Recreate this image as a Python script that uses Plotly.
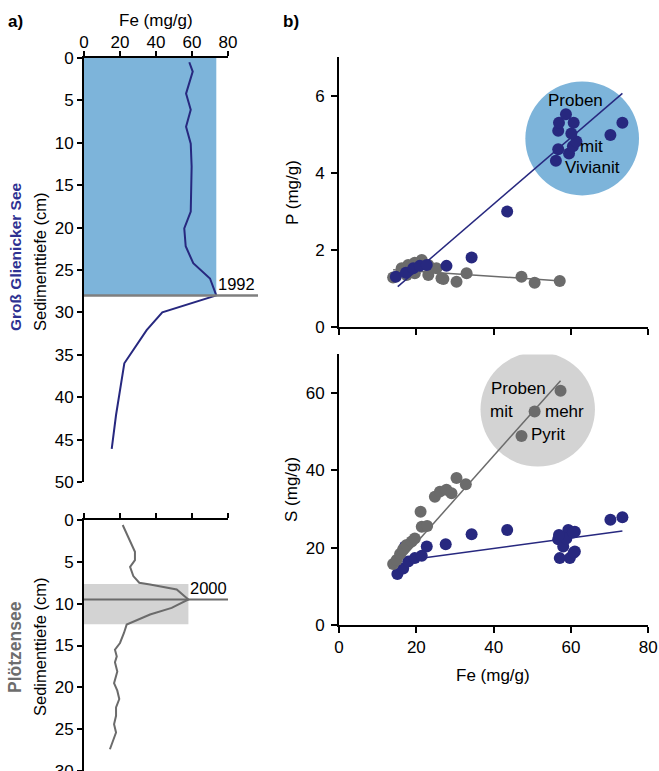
import plotly.graph_objects as go

W, H = 659, 771

# ---------------- data ----------------
# Groß Glienicker See depth profile
gg_depth = [0.5, 1.6, 4.2, 6.1, 8.1, 10.1, 12.8, 16.0, 18.1, 20.1, 22.2, 24.2, 26.0, 28.0, 30.0, 32.1, 36.0, 42.1, 46.1]
gg_fe = [58.5, 60.4, 56.7, 59.3, 56.7, 59.3, 59.8, 59.3, 59.3, 55.7, 56.5, 60.7, 70.0, 73.5, 43.5, 34.8, 22.4, 17.8, 15.4]
gg_year_depth = 28.0
gg_year = "1992"

# Plötzensee depth profile
pl_depth = [0.6, 2.0, 2.8, 3.8, 4.8, 5.6, 6.7, 7.5, 7.7, 8.3, 9.5, 10.5, 11.3, 12.5, 13.5, 14.7, 15.5, 16.3,
            17.0, 18.1, 19.5, 20.4, 21.4, 22.4, 23.4, 24.4, 25.4, 26.4, 27.4]
pl_fe = [21.5, 24.6, 26.5, 28.3, 28.3, 25.6, 27.4, 30.7, 36.7, 51.5, 58.0, 48.7, 36.7, 23.7, 22.2, 20.0, 17.2, 18.2,
         17.2, 18.5, 16.7, 18.5, 19.6, 17.8, 17.8, 16.7, 17.8, 16.0, 14.4]
pl_band_depth = [7.65, 12.45]
pl_year_depth = 9.5
pl_year = "2000"

# P vs Fe
gg_fe_p = [14.7, 17.3, 19.2, 20.9, 22.7, 27.8, 34.3, 43.5, 56.1, 56.7, 59.5, 60.5, 61.4, 60.1, 56.7, 56.9, 58.7, 60.7, 70.2, 73.3]
gg_p = [1.30, 1.40, 1.52, 1.58, 1.60, 1.58, 1.80, 2.99, 4.31, 4.61, 4.50, 4.69, 4.81, 5.02, 5.09, 5.30, 5.52, 5.30, 4.98, 5.30]
pl_fe_p = [14.0, 16.2, 17.5, 17.9, 19.6, 19.6, 21.4, 23.1, 23.1, 25.2, 26.5, 27.0, 30.4, 33.0, 47.2, 50.6, 57.1]
pl_p = [1.28, 1.52, 1.34, 1.60, 1.66, 1.39, 1.73, 1.60, 1.34, 1.52, 1.26, 1.24, 1.17, 1.39, 1.30, 1.14, 1.19]
gg_trend_p_fe = [15.2, 73.3]
gg_trend_p = [1.04, 6.06]
pl_trend_p_fe = [14.0, 57.5]
pl_trend_p = [1.48, 1.19]

# S vs Fe
gg_fe_s = [15.1, 16.6, 17.9, 19.6, 21.4, 22.7, 17.1, 27.6, 34.3, 43.5, 56.7, 59.3, 61.0, 58.0, 57.1, 59.7, 61.0, 58.8, 60.5, 56.9, 60.7, 70.2, 73.3]
gg_s = [13.2, 14.6, 16.4, 17.3, 17.9, 20.3, 20.3, 20.9, 23.5, 24.6, 22.2, 24.6, 24.1, 20.3, 17.3, 17.3, 19.0, 22.4, 23.9, 23.3, 18.7, 27.2, 27.9]
pl_fe_s = [14.0, 14.9, 15.8, 16.6, 17.5, 18.8, 19.6, 21.1, 21.4, 22.8, 24.8, 26.1, 27.8, 29.1, 30.4, 32.8, 47.2, 50.6, 57.3]
pl_s = [15.8, 16.8, 18.4, 19.6, 20.7, 21.6, 22.4, 29.3, 25.4, 25.6, 33.2, 34.5, 35.0, 34.1, 38.0, 36.4, 48.9, 55.2, 60.6]
gg_trend_s_fe = [22.2, 73.3]
gg_trend_s = [17.4, 24.3]
pl_trend_s_fe = [14.5, 57.3]
pl_trend_s = [15.1, 63.2]

# highlighted groups (centre, radius in data units)
viv_center = (62.9, 4.89)
viv_radius = (14.7, 1.48)
pyr_center = (51.4, 55.8)
pyr_radius = (14.8, 14.8)

fe_ticks = [0, 20, 40, 60, 80]

# ---------------- style ----------------
FONT = "Liberation Sans, Arial, sans-serif"
BLUE = "#27287f"
GRAY = "#6b6b6b"
LBLUE = "#7db4da"
LGRAY = "#d3d3d3"
FS = 17


def px_x(p):
    return p / W


def px_y(p):
    return 1 - p / H


left_dom = [px_x(84), px_x(228)]
right_dom = [px_x(339), px_x(648.3)]

fig = go.Figure()

# ---- left top profile
fig.add_trace(go.Scatter(x=gg_fe, y=gg_depth, mode="lines", line=dict(color=BLUE, width=2),
                         xaxis="x", yaxis="y", showlegend=False))
# 1992 line on a wider invisible axis with the same scale
ext = 96.7
fig.add_trace(go.Scatter(x=[0, ext], y=[gg_year_depth, gg_year_depth], mode="lines",
                         line=dict(color="#7f7f7f", width=2.5), xaxis="x5", yaxis="y", showlegend=False))

# ---- left bottom profile
fig.add_trace(go.Scatter(x=[0, 80], y=[pl_year_depth, pl_year_depth], mode="lines",
                         line=dict(color=GRAY, width=2), xaxis="x2", yaxis="y2", showlegend=False))
fig.add_trace(go.Scatter(x=pl_fe, y=pl_depth, mode="lines", line=dict(color=GRAY, width=2),
                         xaxis="x2", yaxis="y2", showlegend=False))

# ---- right top: P vs Fe
fig.add_trace(go.Scatter(x=pl_trend_p_fe, y=pl_trend_p, mode="lines", line=dict(color=GRAY, width=1.5),
                         xaxis="x3", yaxis="y3", showlegend=False))
fig.add_trace(go.Scatter(x=pl_fe_p, y=pl_p, mode="markers", marker=dict(color=GRAY, size=12),
                         xaxis="x3", yaxis="y3", showlegend=False))
fig.add_trace(go.Scatter(x=gg_trend_p_fe, y=gg_trend_p, mode="lines", line=dict(color=BLUE, width=1.5),
                         xaxis="x3", yaxis="y3", showlegend=False))
fig.add_trace(go.Scatter(x=gg_fe_p, y=gg_p, mode="markers", marker=dict(color=BLUE, size=12),
                         xaxis="x3", yaxis="y3", showlegend=False))

# ---- right bottom: S vs Fe
fig.add_trace(go.Scatter(x=gg_trend_s_fe, y=gg_trend_s, mode="lines", line=dict(color=BLUE, width=1.5),
                         xaxis="x4", yaxis="y4", showlegend=False))
fig.add_trace(go.Scatter(x=gg_fe_s, y=gg_s, mode="markers", marker=dict(color=BLUE, size=12),
                         xaxis="x4", yaxis="y4", showlegend=False))
fig.add_trace(go.Scatter(x=pl_trend_s_fe, y=pl_trend_s, mode="lines", line=dict(color=GRAY, width=1.5),
                         xaxis="x4", yaxis="y4", showlegend=False))
fig.add_trace(go.Scatter(x=pl_fe_s, y=pl_s, mode="markers", marker=dict(color=GRAY, size=12),
                         xaxis="x4", yaxis="y4", showlegend=False))

shapes = [
    dict(type="rect", xref="x", yref="y", x0=0, x1=max(gg_fe), y0=0, y1=gg_year_depth,
         fillcolor=LBLUE, line=dict(width=0), layer="below"),
    dict(type="rect", xref="x2", yref="y2", x0=0, x1=max(pl_fe), y0=pl_band_depth[0], y1=pl_band_depth[1],
         fillcolor=LGRAY, line=dict(width=0), layer="below"),
    dict(type="circle", xref="x3", yref="y3",
         x0=viv_center[0] - viv_radius[0], x1=viv_center[0] + viv_radius[0],
         y0=viv_center[1] - viv_radius[1], y1=viv_center[1] + viv_radius[1],
         fillcolor=LBLUE, line=dict(width=0), layer="below"),
    dict(type="circle", xref="x4", yref="y4",
         x0=pyr_center[0] - pyr_radius[0], x1=pyr_center[0] + pyr_radius[0],
         y0=pyr_center[1] - pyr_radius[1], y1=pyr_center[1] + pyr_radius[1],
         fillcolor=LGRAY, line=dict(width=0), layer="below"),
]

axis_common = dict(showline=True, linecolor="black", linewidth=2, ticks="outside", tickcolor="black",
                   tickwidth=2, showgrid=False, zeroline=False, automargin=False,
                   ticklabeloverflow="allow",
                   tickfont=dict(family=FONT, size=FS, color="black"))

annotations = []


def ann(text, x, y, xref="paper", yref="paper", size=FS, color="black", bold=False, angle=0,
        xanchor="center", yanchor="middle"):
    if xref == "paper":
        x = px_x(x)
    if yref == "paper":
        y = px_y(y)
    annotations.append(dict(text=("<b>%s</b>" % text) if bold else text, x=x, y=y, xref=xref, yref=yref,
                            showarrow=False, textangle=angle, xanchor=xanchor, yanchor=yanchor,
                            font=dict(family=FONT, size=size, color=color)))


ann("a)", 15, 21, bold=True)
ann("b)", 291, 21, bold=True)
ann("Fe (mg/g)", 156, 20)
ann("Groß Glienicker See", 16, 257, bold=True, color="#2e3192", angle=-90, size=15.5)
ann("Sedimenttiefe (cm)", 40, 262, angle=-90, size=16.5)
ann("Plötzensee", 15, 647, bold=True, color="#6d6d6d", angle=-90, size=17.5)
ann("Sedimenttiefe (cm)", 40, 647, angle=-90, size=16.5)
ann("P (mg/g)", 292, 193, angle=-90)
ann("S (mg/g)", 292, 490, angle=-90)
ann("Fe (mg/g)", 493.5, 675)
ann(gg_year, max(gg_fe), gg_year_depth, xref="x", yref="y", xanchor="left", yanchor="bottom", size=16.5)
ann(pl_year, max(pl_fe), pl_year_depth, xref="x2", yref="y2", xanchor="left", yanchor="bottom", size=16.5)
ann("Proben", 61.2, 5.87, xref="x3", yref="y3")
ann("mit", 65.2, 4.69, xref="x3", yref="y3")
ann("Vivianit", 65.6, 4.14, xref="x3", yref="y3")
ann("Proben", 46.3, 61.2, xref="x4", yref="y4")
ann("mit", 42.0, 55.2, xref="x4", yref="y4")
ann("mehr", 58.4, 55.2, xref="x4", yref="y4")
ann("Pyrit", 54.1, 49.4, xref="x4", yref="y4")

fig.update_layout(
    width=W, height=H, margin=dict(l=0, r=0, t=0, b=0, pad=0), autosize=False,
    paper_bgcolor="white", plot_bgcolor="rgba(0,0,0,0)", template="none",
    showlegend=False, shapes=shapes, annotations=annotations,
    xaxis=dict(axis_common, domain=left_dom, anchor="y", side="top", range=[0, 80], tickvals=fe_ticks,
               ticklen=5, ticklabelstandoff=-4),
    yaxis=dict(axis_common, domain=[px_y(482), px_y(58)], anchor="x", range=[50, 0],
               tickvals=[0, 5, 10, 15, 20, 25, 30, 35, 40, 45, 50], ticklen=5),
    xaxis5=dict(domain=[px_x(84), px_x(84 + ext * 1.8)], anchor="y", range=[0, ext], visible=False,
                automargin=False),
    xaxis2=dict(axis_common, domain=left_dom, anchor="y2", side="top", range=[0, 80], tickvals=fe_ticks,
                showticklabels=False, ticklen=5),
    yaxis2=dict(axis_common, domain=[0, px_y(520)], anchor="x2", range=[30, 0],
                tickvals=[0, 5, 10, 15, 20, 25, 30], ticklen=5),
    xaxis3=dict(axis_common, domain=right_dom, anchor="y3", range=[0, 80], tickvals=fe_ticks,
                showticklabels=False, ticklen=6),
    yaxis3=dict(axis_common, domain=[px_y(326.7), px_y(57.2)], anchor="x3", range=[0, 7],
                tickvals=[0, 2, 4, 6], ticklen=6, ticklabelstandoff=3),
    xaxis4=dict(axis_common, domain=right_dom, anchor="y4", range=[0, 80], tickvals=fe_ticks, ticklen=6),
    yaxis4=dict(axis_common, domain=[px_y(625), px_y(354.4)], anchor="x4", range=[0, 70],
                tickvals=[0, 20, 40, 60], ticklen=6, ticklabelstandoff=3),
)

fig.write_html("out.html", config={"displayModeBar": False},
               post_script="document.body.style.margin='0';document.body.style.overflow='hidden';")
